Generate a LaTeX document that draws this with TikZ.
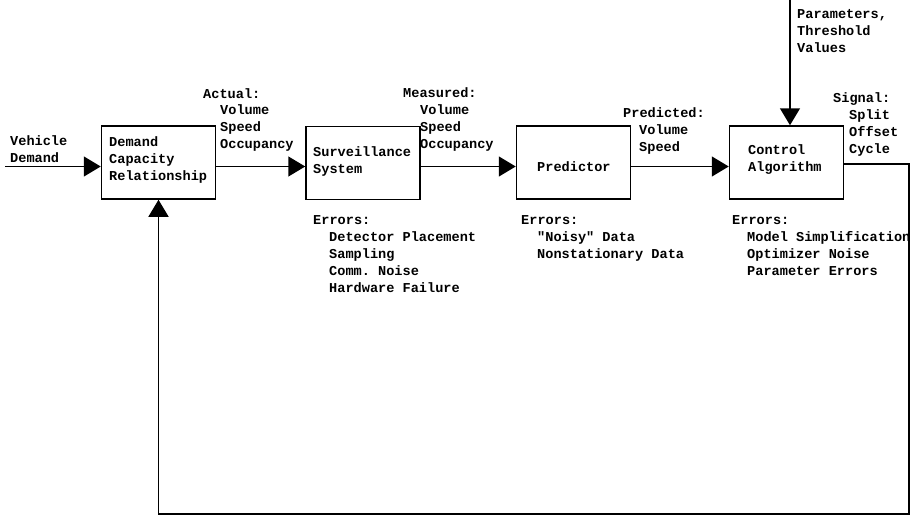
\documentclass[tikz,border=0pt]{standalone}
\usepackage{fontspec}
\setmonofont{Liberation Mono}
\usetikzlibrary{arrows.meta}
\tikzset{
  blk/.style={draw, line width=1.5pt, minimum width=114pt, minimum height=73pt, inner sep=0pt},
  lbl/.style={font=\fontsize{13.6}{17}\selectfont\ttfamily\bfseries, inner sep=0pt, anchor=base west, align=left},
  conn/.style={line width=1.5pt},
  arr/.style={conn, -{Triangle[length=17pt,width=20pt]}}
}
\begin{document}
\begin{tikzpicture}[x=1pt,y=-1pt]
\useasboundingbox (0,0) rectangle (919,517);
% boxes
\node[blk] (dc) at (158.5,162.5) {};
\node[blk] (sv) at (363,163) {};
\node[blk] (pr) at (573.5,162.5) {};
\node[blk] (cb) at (786.5,162.5) {};
% box texts (anchor = baseline of last line)
\node[lbl] (dct) at (109,180) {Demand\\Capacity\\Relationship};
\node[lbl] (svt) at (313,173) {Surveillance\\System};
\node[lbl] (prt) at (537,171) {Predictor};
\node[lbl] (cbt) at (748,171) {Control\\Algorithm};
% signal labels
\node[lbl] (vd) at (10,162) {Vehicle\\Demand};
\node[lbl] (act) at (203,98) {Actual:};
\node[lbl] (actb) at (220,148) {Volume\\Speed\\Occupancy};
\node[lbl] (mea) at (403,97) {Measured:};
\node[lbl] (meab) at (420,148) {Volume\\Speed\\Occupancy};
\node[lbl] (pre) at (623,117) {Predicted:};
\node[lbl] (preb) at (639,151) {Volume\\Speed};
\node[lbl] (par) at (797,52) {Parameters,\\Threshold\\Values};
\node[lbl] (sig) at (833,102) {Signal:};
\node[lbl] (sigb) at (849,153) {Split\\Offset\\Cycle};
% errors
\node[lbl] (e1) at (313,224) {Errors:};
\node[lbl] (e1b) at (329,292) {Detector Placement\\Sampling\\Comm. Noise\\Hardware Failure};
\node[lbl] (e2) at (521,224) {Errors:};
\node[lbl] (e2b) at (537,258) {"Noisy" Data\\Nonstationary Data};
\node[lbl] (e3) at (732,224) {Errors:};
\node[lbl] (e3b) at (747,275) {Model Simplification\\Optimizer Noise\\Parameter Errors};
% connectors
\coordinate (in) at (5,166.5);
\coordinate (pin) at (790,0);
\coordinate (fr) at (909,164);
\coordinate (fb) at (909,514);
\coordinate (fl) at (158.5,514);
\draw[arr] (in) -- (in -| dc.west);
\draw[arr] (dc.east |- in) -- (sv.west |- in);
\draw[arr] (sv.east |- in) -- (pr.west |- in);
\draw[arr] (pr.east |- in) -- (cb.west |- in);
\draw[arr] (pin) -- (pin |- cb.north);
\draw[arr] (cb.east |- fr) -- (fr) -- (fb) -- (fl) -- (dc.south);
\end{tikzpicture}
\end{document}
